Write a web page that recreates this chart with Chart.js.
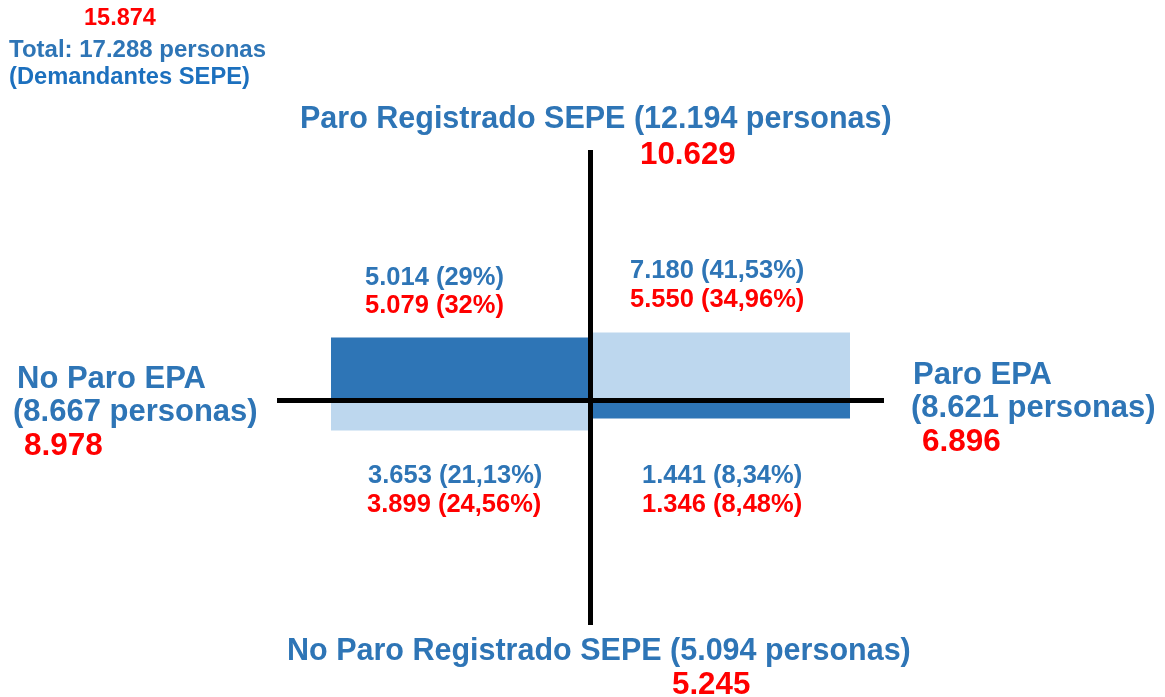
<!DOCTYPE html>
<html>
<head>
<meta charset="utf-8">
<script src="https://cdn.jsdelivr.net/npm/chart.js@4"></script>
<style>
    body { margin: 0; background: #fff; }
    #cuadro { display: block; }
</style>
</head>
<body>
<canvas id="cuadro" width="1165" height="697"></canvas>
<script>
// Datos
var cuadrantes = ['No Paro EPA', 'Paro EPA'];
var barrasArriba = [62.5, 67.5];   // tamaño de barra
var barrasAbajo = [-29.5, -17.5];

var totalDemandantes = 17288;
var totalRojo = 15874;

var ejeSepe = ['Paro Registrado SEPE', 'No Paro Registrado SEPE'];
var sepeAzul = [12194, 5094];
var sepeRojo = [10629, 5245];

var epaAzul = [8667, 8621];
var epaRojo = [8978, 6896];

var personasArriba = [5014, 7180];
var pctArriba = [29, 41.53];
var rojoArriba = [5079, 5550];
var pctRojoArriba = [32, 34.96];
var personasAbajo = [3653, 1441];
var pctAbajo = [21.13, 8.34];
var rojoAbajo = [3899, 1346];
var pctRojoAbajo = [24.56, 8.48];

var AZUL = '#2E75B6';
var AZUL_CLARO = '#BDD7EE';
var ROJO = '#FF0000';
var FUENTE = '"Liberation Sans", Arial, sans-serif';

function fmt(n) {
    return n.toString().replace(/\B(?=(\d{3})+(?!\d))/g, '.');
}
function pct(p) {
    return String(p).replace('.', ',') + '%';
}

// Cruz de ejes
var cruzPlugin = {
    id: 'cruz',
    afterDatasetsDraw: function(chart) {
        var ctx = chart.ctx;
        var area = chart.chartArea;
        var x = chart.scales.x.getPixelForValue(0.5);
        var y = chart.scales.y.getPixelForValue(0);
        ctx.save();
        ctx.strokeStyle = '#000';
        ctx.lineWidth = 5;
        ctx.beginPath();
        ctx.moveTo(x, area.top);
        ctx.lineTo(x, area.bottom);
        ctx.moveTo(area.left - 54, y);
        ctx.lineTo(area.right + 34, y);
        ctx.stroke();
        ctx.restore();
    }
};

// Textos
var textosPlugin = {
    id: 'textos',
    afterDraw: function(chart) {
        var ctx = chart.ctx;
        function txt(s, x, y, size, color, base) {
            ctx.font = 'bold ' + size + 'px ' + FUENTE;
            ctx.fillStyle = color;
            ctx.textBaseline = base || 'middle';
            ctx.fillText(s, x, y);
        }
        ctx.save();
        ctx.textAlign = 'left';

        txt(fmt(totalRojo), 84, 19, 23.5, ROJO);
        txt('Total: ' + fmt(totalDemandantes) + ' personas', 9, 50, 24, AZUL);
        txt('(Demandantes SEPE)', 9, 77, 23.7, '#1C70BE');

        txt(ejeSepe[0] + ' (' + fmt(sepeAzul[0]) + ' personas)', 300, 120, 30.5, AZUL);
        txt(fmt(sepeRojo[0]), 640, 155, 31.3, ROJO);
        txt(ejeSepe[1] + ' (' + fmt(sepeAzul[1]) + ' personas)', 287, 652, 30.5, AZUL);
        txt(fmt(sepeRojo[1]), 672, 685, 31.3, ROJO);

        txt(cuadrantes[0], 17, 379, 31, AZUL);
        txt('(' + fmt(epaAzul[0]) + ' personas)', 13, 412, 31, AZUL);
        txt(fmt(epaRojo[0]), 24, 446, 31.5, ROJO);
        txt(cuadrantes[1], 913, 375, 31, AZUL);
        txt('(' + fmt(epaAzul[1]) + ' personas)', 911, 408, 31, AZUL);
        txt(fmt(epaRojo[1]), 922, 442, 31.5, ROJO);

        var xArriba = [[365, 365], [630, 630]];
        var yArriba = [[285, 313], [278, 307]];
        var xAbajo = [[368, 367], [642, 642]];
        var yAbajo = [[483, 512], [483, 512]];
        for (var i = 0; i < 2; i++) {
            txt(fmt(personasArriba[i]) + ' (' + pct(pctArriba[i]) + ')', xArriba[i][0], yArriba[i][0], 25.5, AZUL, 'alphabetic');
            txt(fmt(rojoArriba[i]) + ' (' + pct(pctRojoArriba[i]) + ')', xArriba[i][1], yArriba[i][1], 25.5, ROJO, 'alphabetic');
            txt(fmt(personasAbajo[i]) + ' (' + pct(pctAbajo[i]) + ')', xAbajo[i][0], yAbajo[i][0], 25.5, AZUL, 'alphabetic');
            txt(fmt(rojoAbajo[i]) + ' (' + pct(pctRojoAbajo[i]) + ')', xAbajo[i][1], yAbajo[i][1], 25.5, ROJO, 'alphabetic');
        }
        ctx.restore();
    }
};

var ctx = document.getElementById('cuadro').getContext('2d');
var cuadroChart = new Chart(ctx, {
    type: 'bar',
    data: {
        labels: cuadrantes,
        datasets: [{
            data: barrasArriba,
            backgroundColor: [AZUL, AZUL_CLARO],
            borderWidth: 0
        }, {
            data: barrasAbajo,
            backgroundColor: [AZUL_CLARO, AZUL],
            borderWidth: 0
        }]
    },
    options: {
        responsive: false,
        animation: false,
        events: [],
        barPercentage: 1,
        categoryPercentage: 1,
        layout: {
            padding: { left: 331, right: 315, top: 150, bottom: 72 }
        },
        scales: {
            x: { display: false, stacked: true },
            y: { display: false, stacked: true, min: -224, max: 250 }
        },
        plugins: {
            legend: { display: false },
            tooltip: { enabled: false }
        }
    },
    plugins: [cruzPlugin, textosPlugin]
});
</script>
</body>
</html>
